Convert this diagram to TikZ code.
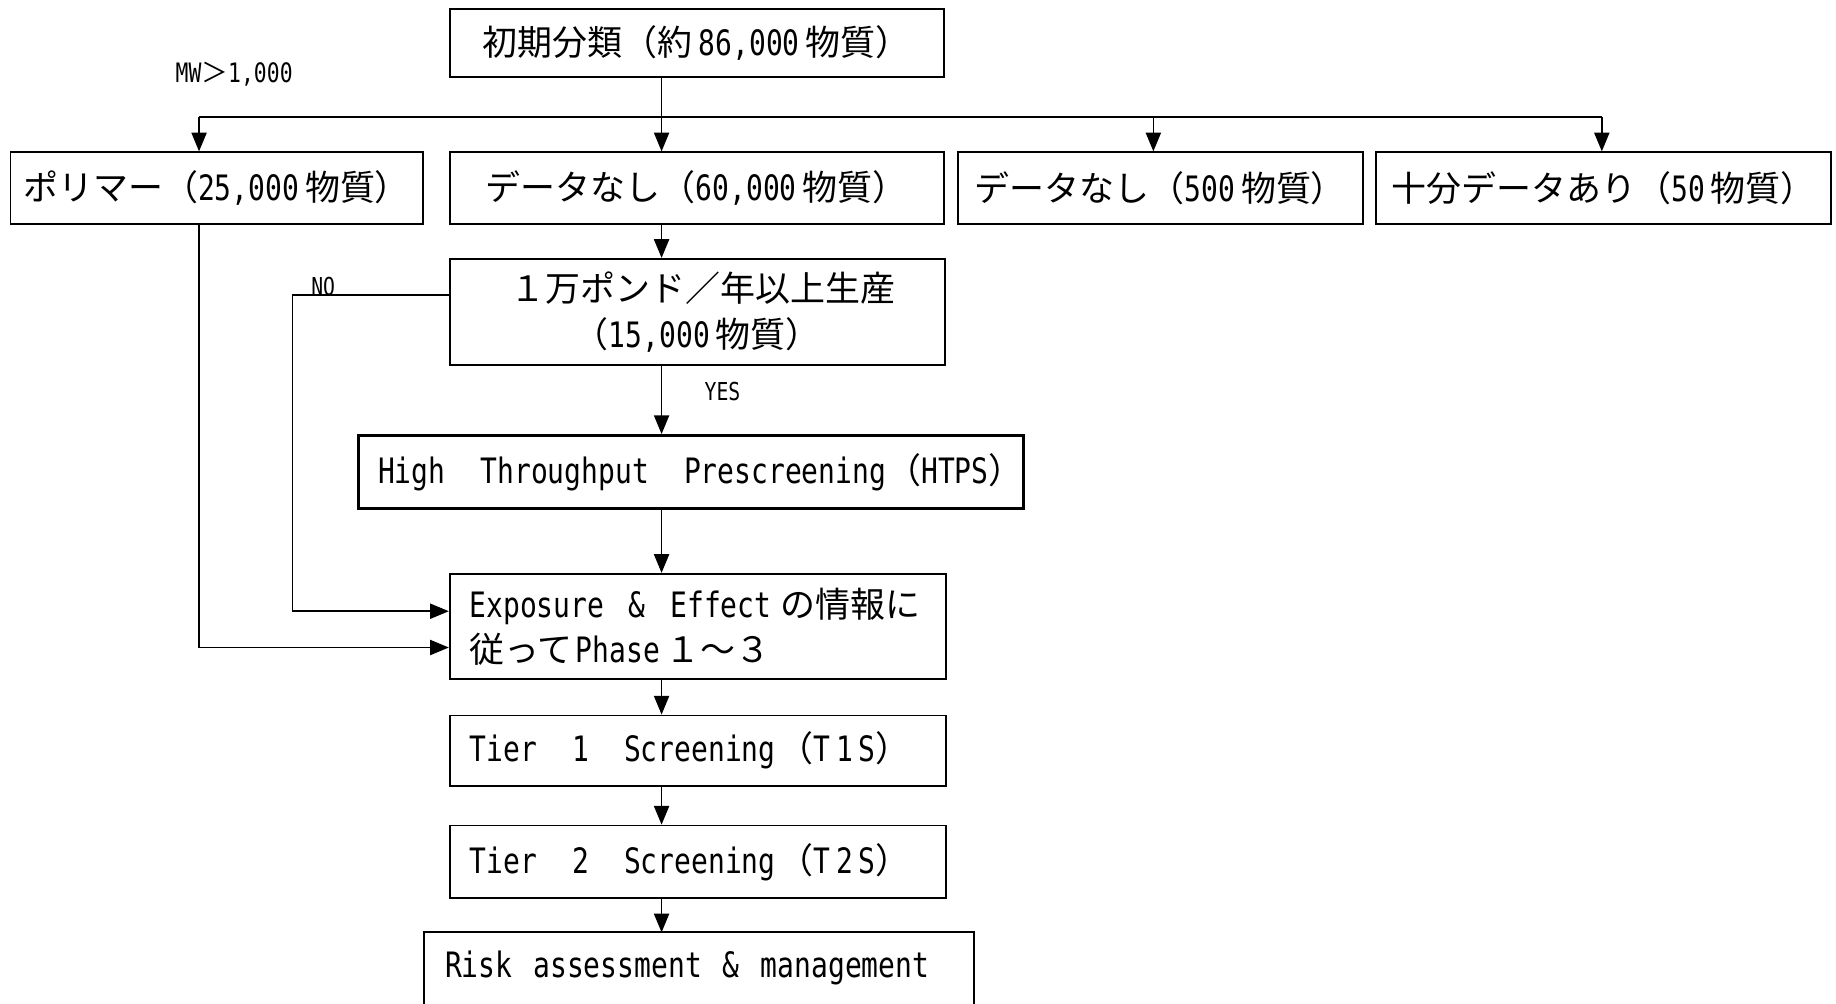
\documentclass[tikz,border=0pt]{standalone}
\usepackage{fontspec}
\setmainfont{Noto Sans CJK JP}
\newfontfamily\lat[FakeStretch=0.8]{DejaVu Sans Mono}
\newcommand\Lt[1]{{\lat #1}}
\newcommand\gp{\hspace{0.36cm}}
\usetikzlibrary{arrows.meta}
\begin{document}
\begin{tikzpicture}[x=0.02cm,y=-0.02cm,
  box/.style={draw, line width=0.85pt, inner sep=0pt, align=center,
    font=\fontsize{17}{22}\selectfont},
  lbox/.style={box, align=left, inner xsep=0.34cm, text width=#1},
  thickbox/.style={box, line width=1.5pt},
  arr/.style={-{Triangle[length=0.32cm,width=0.26cm]}, line width=0.7pt},
  ln/.style={line width=0.7pt},
  small/.style={inner sep=0pt, font=\fontsize{12}{14}\selectfont}]
\useasboundingbox (0,0) rectangle (1568,857);
\clip (0,0) rectangle (1568,857);

\node[box, minimum width=8.44cm, minimum height=1.16cm] (top) at (595,37)
  {初期分類（約\,\Lt{86,000}\,物質）};
\node[box, minimum width=7.04cm, minimum height=1.22cm] (poly) at (185,160.5)
  {ポリマー（\Lt{25,000}\,物質）};
\node[box, minimum width=8.44cm, minimum height=1.22cm] (nod1) at (595,160.5)
  {データなし（\Lt{60,000}\,物質）};
\node[box, minimum width=6.92cm, minimum height=1.22cm] (nod2) at (991,160.5)
  {データなし（\Lt{500}\,物質）};
\node[box, minimum width=7.78cm, minimum height=1.22cm] (enough) at (1369.5,160.5)
  {十分データあり（\Lt{50}\,物質）};
\node[box, minimum width=8.46cm, minimum height=1.82cm] (pound) at (595.5,266.5)
  {\hspace{0.2cm}１万ポンド／年以上生産\\（\Lt{15,000}\,物質）};
\node[thickbox, minimum width=11.36cm, minimum height=1.24cm] (htps) at (590,403)
  {\hspace{0.34cm}\Lt{High}\hspace{0.6cm}\Lt{Throughput}\hspace{0.6cm}\Lt{Prescreening}（\Lt{HTPS}）};
\node[lbox=7.8cm, minimum height=1.8cm] (expo) at (596,535)
  {\mbox{\Lt{Exposure}\hspace{0.42cm}\Lt{\&}\hspace{0.42cm}\Lt{Effect}\hspace{0.15cm}の情報に}\\従って\hspace{0.05cm}\Lt{Phase}\hspace{0.1cm}１～３};
\node[lbox=7.8cm, minimum height=1.2cm] (t1) at (596,641)
  {\Lt{Tier}\hspace{0.6cm}\Lt{1}\hspace{0.6cm}\Lt{Screening}\hspace{0.05cm}（\Lt{T\,1\,S}）};
\node[lbox=7.8cm, minimum height=1.24cm] (t2) at (596,736)
  {\Lt{Tier}\hspace{0.6cm}\Lt{2}\hspace{0.6cm}\Lt{Screening}\hspace{0.05cm}（\Lt{T\,2\,S}）};
\node[lbox=8.68cm, minimum height=1.2cm, draw=none] (risk) at (597,827)
  {\Lt{Risk}\gp\Lt{assessment}\gp\Lt{\&}\gp\Lt{management}};
\draw[line width=0.85pt] (risk.south west) -- (risk.north west) -- (risk.north east) -- (risk.south east);

% labels
\node[small, font=\fontsize{13}{15}\selectfont] (mw) at (200,63) {\Lt{MW}＞\Lt{1,000}};
\node[small] (no) at (276,245) {\Lt{NO}};
\node[small] (yes) at (617,334) {\Lt{YES}};

% connectors
\coordinate (ax) at (565,0);
\coordinate (b1) at (170,100);
\coordinate (b3) at (985,100);
\coordinate (b4) at (1368,100);
\draw[ln] (b1) -- (b4);
\draw[arr] (top.south -| ax) -- (nod1.north -| ax);
\draw[arr] (b1) -- (b1 |- poly.north);
\draw[arr] (b3) -- (b3 |- nod2.north);
\draw[arr] (b4) -- (b4 |- enough.north);
\draw[arr] (nod1.south -| ax) -- (pound.north -| ax);
\draw[arr] (pound.south -| ax) -- (htps.north -| ax);
\draw[arr] (htps.south -| ax) -- (expo.north -| ax);
\draw[arr] (expo.south -| ax) -- (t1.north -| ax);
\draw[arr] (t1.south -| ax) -- (t2.north -| ax);
\draw[arr] (t2.south -| ax) -- (risk.north -| ax);
\draw[arr] (pound.west |- 0,252) -- (250,252) |- (expo.west |- 0,522);
\draw[arr] (b1 |- poly.south) |- (expo.west |- 0,553);
\end{tikzpicture}
\end{document}
